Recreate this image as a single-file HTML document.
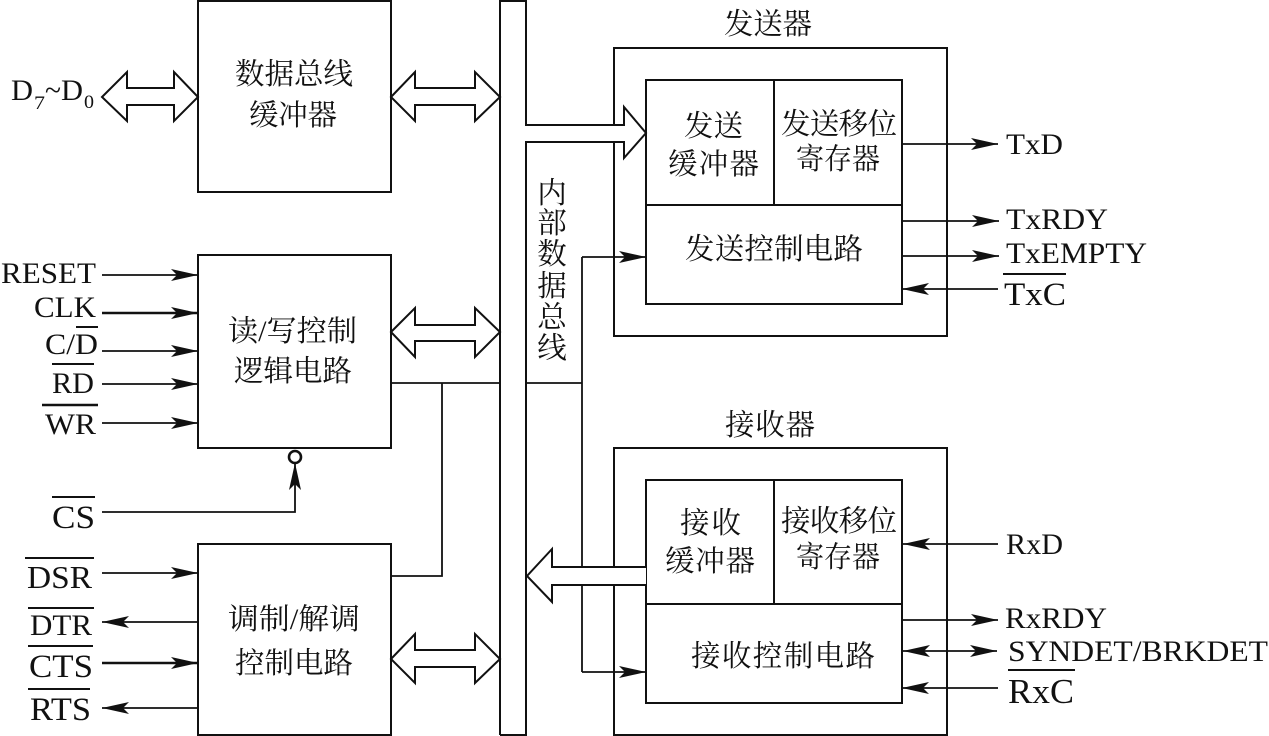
<!DOCTYPE html>
<html lang="zh">
<head>
<meta charset="utf-8">
<style>
html,body{margin:0;padding:0;background:#fff;width:1269px;height:736px;overflow:hidden}
svg{display:block}
.b{fill:none;stroke:#111;stroke-width:2}
.l{fill:none;stroke:#111;stroke-width:1.8}
.w{fill:#fff;stroke:#111;stroke-width:2;stroke-linejoin:miter}
.o{stroke:#111;stroke-width:2;fill:none}
text{fill:#111}
.e{font-family:"Liberation Serif","Noto Serif CJK SC",serif;font-size:30px}
.g{font-size:33px}
.c{font-family:"Liberation Serif","Noto Serif CJK SC",serif;font-size:29.5px}
</style>
</head>
<body>
<svg width="1269" height="736" viewBox="0 0 1269 736" xmlns="http://www.w3.org/2000/svg">
<defs>
<marker id="a" markerUnits="userSpaceOnUse" markerWidth="28" markerHeight="14" refX="27" refY="7" orient="auto-start-reverse">
<path d="M0,1 L27,7 L0,13 L6,7 Z" fill="#111"/>
</marker>
</defs>
<rect width="1269" height="736" fill="#fff"/>

<!-- left blocks -->
<rect class="b" x="198" y="1" width="193" height="191"/>
<rect class="b" x="198" y="255" width="193" height="193"/>
<rect class="b" x="198" y="544" width="193" height="191"/>

<!-- transmitter / receiver frames -->
<rect class="b" x="614" y="48" width="333" height="288"/>
<rect class="b" x="646" y="80" width="256" height="224"/>
<path class="b" d="M646,205H902M774,80V205"/>
<rect class="b" x="614" y="448" width="333" height="287"/>
<rect class="b" x="646" y="480" width="256" height="223"/>
<path class="b" d="M646,604H902M774,480V604"/>

<!-- single connectors -->
<path class="l" d="M391,383H500M526,383H582M442,383V576H391"/>
<path class="l" d="M582,257V672" />
<path class="l" d="M582,257H646" marker-end="url(#a)"/>
<path class="l" d="M582,672H646" marker-end="url(#a)"/>

<!-- left signals -->
<path class="l" d="M102,275H198" marker-end="url(#a)"/>
<path class="l" d="M102,313H198" marker-end="url(#a)" style="stroke-width:2.4"/>
<path class="l" d="M102,351H198" marker-end="url(#a)"/>
<path class="l" d="M102,384H198" marker-end="url(#a)"/>
<path class="l" d="M102,423H198" marker-end="url(#a)"/>
<path class="l" d="M102,512H295V463" marker-end="url(#a)"/>
<ellipse cx="295" cy="457" rx="6" ry="6" fill="#fff" stroke="#111" stroke-width="2.6"/>
<path class="l" d="M102,573H198" marker-end="url(#a)"/>
<path class="l" d="M198,622H102" marker-end="url(#a)"/>
<path class="l" d="M102,663H198" marker-end="url(#a)" style="stroke-width:2.4"/>
<path class="l" d="M198,708H102" marker-end="url(#a)"/>

<!-- right signals -->
<path class="l" d="M902,144H998" marker-end="url(#a)"/>
<path class="l" d="M902,221H999" marker-end="url(#a)"/>
<path class="l" d="M902,256H999" marker-end="url(#a)"/>
<path class="l" d="M998,289H902" marker-end="url(#a)"/>
<path class="l" d="M998,544H903" marker-end="url(#a)"/>
<path class="l" d="M902,620H998" marker-end="url(#a)"/>
<path class="l" d="M903,651H997" marker-start="url(#a)" marker-end="url(#a)"/>
<path class="l" d="M998,688H902" marker-end="url(#a)"/>

<!-- bus -->
<path class="b" d="M500,735V1H526V125H624V107L646,133L624,158V142H526V735H500" style="fill:#fff"/>
<path class="w" d="M646,567H552V549L527,576L552,602V585H646"/>
<path class="l" d="M526,142V735"/>

<!-- hollow double arrows -->
<path class="w" d="M102,97L127,72V88H174V72L198,97L174,121V105H127V121Z"/>
<path class="w" d="M391,97L415,72V88H475V72L500,97L475,121V105H415V121Z"/>
<path class="w" d="M391,332L415,308V325H475V308L500,332L475,357V341H415V357Z"/>
<path class="w" d="M391,659L415,634V650H475V634L500,659L475,683V667H415V683Z"/>

<!-- overbars -->
<path class="o" d="M76,327H98M52,364H94M52,497H95M25,558H94M28,608H94M28,646H93M28,689H90M1003,274H1066M1008,670H1075"/>
<path class="o" d="M42,405H98" style="stroke-width:2.6"/>

<!-- left labels -->
<text class="e" x="11" y="100" textLength="22" lengthAdjust="spacingAndGlyphs">D</text>
<text class="e" x="34" y="109" style="font-size:19px" textLength="11" lengthAdjust="spacingAndGlyphs">7</text>
<text class="e" x="45" y="100" textLength="16" lengthAdjust="spacingAndGlyphs">~</text>
<text class="e" x="61" y="100" textLength="22" lengthAdjust="spacingAndGlyphs">D</text>
<text class="e" x="84" y="108" style="font-size:19px" textLength="10" lengthAdjust="spacingAndGlyphs">0</text>
<text class="e" x="1" y="283" textLength="95" lengthAdjust="spacingAndGlyphs">RESET</text>
<text class="e" x="34" y="317" textLength="62" lengthAdjust="spacingAndGlyphs">CLK</text>
<text class="e" x="45" y="354" textLength="53" lengthAdjust="spacingAndGlyphs">C/D</text>
<text class="e" x="52" y="393" textLength="42" lengthAdjust="spacingAndGlyphs">RD</text>
<text class="e" x="45" y="434" textLength="51" lengthAdjust="spacingAndGlyphs">WR</text>
<text class="e g" x="52" y="528" textLength="43" lengthAdjust="spacingAndGlyphs">CS</text>
<text class="e" x="27" y="588" textLength="65" lengthAdjust="spacingAndGlyphs" style="font-size:32px">DSR</text>
<text class="e" x="30" y="635" textLength="62" lengthAdjust="spacingAndGlyphs">DTR</text>
<text class="e g" x="29" y="677" textLength="64" lengthAdjust="spacingAndGlyphs">CTS</text>
<text class="e g" x="30" y="720" textLength="61" lengthAdjust="spacingAndGlyphs">RTS</text>

<!-- right labels -->
<text class="e" x="1006" y="154" textLength="57" lengthAdjust="spacingAndGlyphs">TxD</text>
<text class="e" x="1006" y="229" textLength="102" lengthAdjust="spacingAndGlyphs">TxRDY</text>
<text class="e" x="1006" y="263" textLength="141" lengthAdjust="spacingAndGlyphs">TxEMPTY</text>
<text class="e g" x="1004" y="305" textLength="62" lengthAdjust="spacingAndGlyphs">TxC</text>
<text class="e" x="1006" y="554" textLength="57" lengthAdjust="spacingAndGlyphs">RxD</text>
<text class="e" x="1005" y="628" textLength="102" lengthAdjust="spacingAndGlyphs">RxRDY</text>
<text class="e" x="1008" y="661" textLength="260" lengthAdjust="spacingAndGlyphs">SYNDET/BRKDET</text>
<text class="e" x="1008" y="703" textLength="66" lengthAdjust="spacingAndGlyphs" style="font-size:35px">RxC</text>

<!-- Chinese labels -->
<text class="c" x="235" y="84" textLength="118" lengthAdjust="spacing">数据总线</text>
<text class="c" x="249" y="125" textLength="88" lengthAdjust="spacing">缓冲器</text>
<text class="c" x="228" y="341" textLength="129" lengthAdjust="spacingAndGlyphs">读/写控制</text>
<text class="c" x="234" y="381" textLength="118" lengthAdjust="spacing">逻辑电路</text>
<text class="c" x="228" y="629" textLength="132" lengthAdjust="spacingAndGlyphs">调制/解调</text>
<text class="c" x="235" y="673" textLength="118" lengthAdjust="spacing">控制电路</text>

<g class="c" text-anchor="middle">
<text x="552" y="203">内</text>
<text x="552" y="233">部</text>
<text x="552" y="264">数</text>
<text x="552" y="296">据</text>
<text x="552" y="327">总</text>
<text x="552" y="358">线</text>
</g>

<text class="c" x="724" y="34" textLength="88" lengthAdjust="spacing">发送器</text>
<text class="c" x="684" y="136" textLength="59" lengthAdjust="spacing">发送</text>
<text class="c" x="668" y="174" textLength="91" lengthAdjust="spacing">缓冲器</text>
<text class="c" x="781" y="134" textLength="116" lengthAdjust="spacing">发送移位</text>
<text class="c" x="796" y="169" textLength="84" lengthAdjust="spacingAndGlyphs">寄存器</text>
<text class="c" x="685" y="259" textLength="178" lengthAdjust="spacing">发送控制电路</text>

<text class="c" x="725" y="435" textLength="90" lengthAdjust="spacing">接收器</text>
<text class="c" x="680" y="533" textLength="61" lengthAdjust="spacing">接收</text>
<text class="c" x="665" y="571" textLength="90" lengthAdjust="spacing">缓冲器</text>
<text class="c" x="781" y="531" textLength="116" lengthAdjust="spacing">接收移位</text>
<text class="c" x="796" y="567" textLength="84" lengthAdjust="spacingAndGlyphs">寄存器</text>
<text class="c" x="691" y="666" textLength="184" lengthAdjust="spacing">接收控制电路</text>
</svg>
</body>
</html>
